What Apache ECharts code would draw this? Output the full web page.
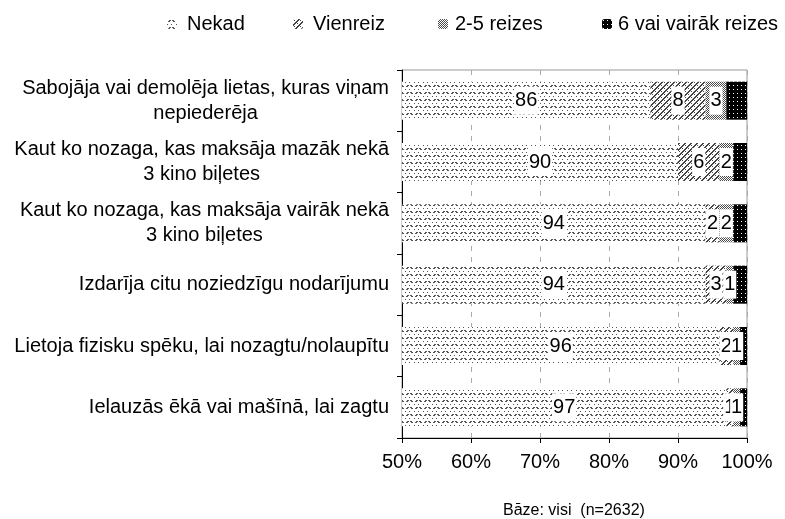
<!DOCTYPE html>
<html>
<head>
<meta charset="utf-8">
<script src="https://cdn.jsdelivr.net/npm/echarts@6/dist/echarts.min.js"></script>
<style>
html,body{margin:0;padding:0;background:#fff;}
#chart{width:785px;height:519px;}
</style>
</head>
<body>
<div id="chart"></div>
<script>
// ---- data ----
const categories = [
  'Sabojāja vai demolēja lietas, kuras viņam\nnepiederēja',
  'Kaut ko nozaga, kas maksāja mazāk nekā\n3 kino biļetes',
  'Kaut ko nozaga, kas maksāja vairāk nekā\n3 kino biļetes',
  'Izdarīja citu noziedzīgu nodarījumu',
  'Lietoja fizisku spēku, lai nozagtu/nolaupītu',
  'Ielauzās ēkā vai mašīnā, lai zagtu'
];
const seriesNames = ['Nekad', 'Vienreiz', '2-5 reizes', '6 vai vairāk reizes'];
const nekad = [86, 90, 94, 94, 96, 97];
const vienreiz = [8, 6, 2, 3, 2, 1];
const reizes25 = [3, 2, 2, 1, 1, 1];
const reizes6 = [3, 2, 2, 2, 1, 1];
const xTicks = [50, 60, 70, 80, 90, 100];
const footnote = 'Bāze: visi  (n=2632)';

// ---- patterns ----
function makePattern(w, h, bg, fg, draw) {
  const c = document.createElement('canvas');
  c.width = w; c.height = h;
  const ctx = c.getContext('2d');
  ctx.fillStyle = bg; ctx.fillRect(0, 0, w, h);
  ctx.fillStyle = fg;
  draw(ctx);
  return { image: c, repeat: 'repeat' };
}
const patNekad = makePattern(9, 7, '#ffffff', '#555555', ctx => {
  ctx.fillRect(2, 1, 2, 1); ctx.fillRect(1, 2, 2, 1);
  ctx.fillRect(5, 1, 2, 1); ctx.fillRect(6, 2, 2, 1);
  ctx.fillRect(0, 5, 1, 1); ctx.fillRect(4, 5, 1, 1);
});
const patVienreiz = makePattern(6, 6, '#ffffff', '#444444', ctx => {
  for (let i = 0; i < 6; i++) {
    ctx.fillRect((5 - i + 6) % 6, i, 1, 1);
    ctx.fillRect((6 - i + 6) % 6, i, 1, 1);
  }
  ctx.fillRect(1, 1, 1, 1); ctx.fillRect(4, 4, 1, 1);
});
const pat25 = makePattern(2, 2, '#ffffff', '#4a4a4a', ctx => {
  ctx.fillRect(0, 0, 1, 1); ctx.fillRect(1, 1, 1, 1);
});
const pat6 = makePattern(4, 4, '#000000', '#ffffff', ctx => {
  ctx.fillRect(1, 1, 1, 1);
});
const patterns = [patNekad, patVienreiz, pat25, pat6];
const values = [nekad, vienreiz, reizes25, reizes6];

const FONT = '"Liberation Sans", Arial, sans-serif';

const chart = echarts.init(document.getElementById('chart'), null, { renderer: 'canvas' });

const series = seriesNames.map((name, i) => ({
  name: name,
  type: 'bar',
  stack: 'total',
  barWidth: '62%',
  data: values[i],
  itemStyle: { color: patterns[i] },
  emphasis: { disabled: true },
  label: {
    show: i < 3,
    position: 'inside',
    fontSize: 20,
    fontFamily: FONT,
    color: '#000',
    backgroundColor: '#fff',
    padding: [5, 1, 3, 1]
  }
}));

const legendLefts = [167, 293, 438, 602];
const legendTextGaps = [5, 5, 2, 1];
const legends = seriesNames.map((name, i) => ({
  data: [name],
  left: legendLefts[i],
  top: 14,
  padding: 0,
  itemWidth: 10,
  itemHeight: 10,
  textStyle: { fontSize: 20, fontFamily: FONT, color: '#000', padding: [0, 0, 0, legendTextGaps[i]] }
}));

chart.setOption({
  animation: false,
  backgroundColor: '#fff',
  legend: legends,
  grid: {
    left: 402, right: 38, top: 70, bottom: 81,
    show: true, borderColor: '#999', borderWidth: 1
  },
  xAxis: {
    type: 'value',
    min: xTicks[0],
    max: xTicks[xTicks.length - 1],
    interval: 10,
    axisLine: { show: true, lineStyle: { color: '#000' } },
    axisTick: { show: true, length: 5, lineStyle: { color: '#000' } },
    axisLabel: { formatter: '{value}%', fontSize: 20, fontFamily: FONT, color: '#000', margin: 14 },
    splitLine: { show: true, lineStyle: { color: '#aaa', type: [5, 6] } }
  },
  yAxis: {
    type: 'category',
    inverse: true,
    data: categories,
    axisLine: { show: true, lineStyle: { color: '#000' } },
    axisTick: { show: true, length: 5, lineStyle: { color: '#000' } },
    axisLabel: {
      margin: 13,
      formatter: v => v.split('\n').map(l => '{c|' + l + '}').join('\n'),
      rich: {
        c: { fontSize: 20, fontFamily: FONT, color: '#000', align: 'center', lineHeight: 25 }
      }
    }
  },
  graphic: [{
    type: 'text',
    left: 503,
    top: 503,
    style: { text: footnote, fontSize: 16, fontFamily: FONT, fill: '#000' }
  }],
  series: series
});
</script>
</body>
</html>
